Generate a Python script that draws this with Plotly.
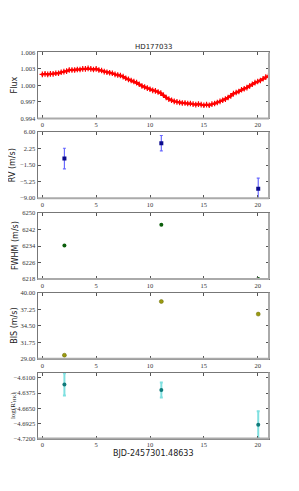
import plotly.graph_objects as go

# ---------------- data ----------------
lc_time = [0.0, 0.25, 0.5, 0.75, 1.0, 1.25, 1.5, 1.75, 2.0, 2.25, 2.5, 2.75, 3.0, 3.25, 3.5,
           3.75, 4.0, 4.25, 4.5, 4.75, 5.0, 5.25, 5.5, 5.75, 6.0, 6.25, 6.5, 6.75, 7.0, 7.25,
           7.5, 7.75, 8.0, 8.25, 8.5, 8.75, 9.0, 9.25, 9.5, 9.75, 10.0, 10.25, 10.5, 10.75,
           11.0, 11.25, 11.5, 11.75, 12.0, 12.25, 12.5, 12.75, 13.0, 13.25, 13.5, 13.75, 14.0,
           14.25, 14.5, 14.75, 15.0, 15.25, 15.5, 15.75, 16.0, 16.25, 16.5, 16.75, 17.0, 17.25,
           17.5, 17.75, 18.0, 18.25, 18.5, 18.75, 19.0, 19.25, 19.5, 19.75, 20.0, 20.25, 20.5,
           20.75, 21.0]
lc_flux = [1.0020, 1.0021, 1.0020, 1.0021, 1.0021, 1.0022, 1.0022, 1.0024, 1.0025, 1.0026,
           1.0028, 1.0028, 1.0028, 1.0029, 1.0029, 1.0030, 1.0030, 1.0031, 1.0030, 1.0029,
           1.0030, 1.0028, 1.0027, 1.0025, 1.0024, 1.0023, 1.0022, 1.0020, 1.0019, 1.0018,
           1.0016, 1.0013, 1.0011, 1.0009, 1.0007, 1.0005, 1.0002, 0.9999, 0.9997, 0.9995,
           0.9993, 0.9991, 0.9990, 0.9988, 0.9986, 0.9982, 0.9978, 0.9975, 0.9973, 0.9971,
           0.9970, 0.9969, 0.9968, 0.9968, 0.9967, 0.9967, 0.9966, 0.9965, 0.9966, 0.9965,
           0.9964, 0.9965, 0.9964, 0.9966, 0.9967, 0.9969, 0.9971, 0.9973, 0.9975, 0.9978,
           0.9981, 0.9985, 0.9987, 0.9989, 0.9992, 0.9994, 0.9996, 0.9999, 1.0002, 1.0005,
           1.0007, 1.0009, 1.0012, 1.0015, 1.0017]
lc_err = 0.00015

spec_time = [2.05, 11.05, 20.05]
rv = [0.0, 3.5, -6.85]
rv_err = [2.35, 1.75, 2.4]
fwhm = [6234.3, 6244.3, 6218.0]
bis = [29.6, 38.55, 36.45]
rhk = [-4.6219, -4.6320, -4.6950]
rhk_err = [0.0202, 0.0134, 0.0244]

title_text = "HD177033"
xlabel = "BJD-2457301.48633"
ylabels = ["Flux", "RV (m/s)", "FWHM (m/s)", "BIS (m/s)", "log(R'<sub>HK</sub>)"]

x_ticks = [0, 5, 10, 15, 20]
flux_ticks = [0.994, 0.997, 1.000, 1.003, 1.006]
flux_ticktext = ["0.994", "0.997", "1.000", "1.003", "1.006"]
rv_ticks = [-9.00, -5.25, -1.50, 2.25, 6.00]
rv_ticktext = ["−9.00", "−5.25", "−1.50", "2.25", "6.00"]
fwhm_ticks = [6218, 6226, 6234, 6242, 6250]
bis_ticks = [29.00, 31.75, 34.50, 37.25, 40.00]
bis_ticktext = ["29.00", "31.75", "34.50", "37.25", "40.00"]
rhk_ticks = [-4.7200, -4.6925, -4.6650, -4.6375, -4.6100]
rhk_ticktext = ["−4.7200", "−4.6925", "−4.6650", "−4.6375", "−4.6100"]

# ---------------- layout geometry ----------------
# the page body has an 8px margin, so the figure is placed at (8, 8)
OFF = 8
W, H = 299 - 2 * OFF, 491 - 2 * OFF


def px(v):
    return v - OFF


x0, x1 = px(37.5) / W, px(269) / W
panels_page = [(49, 116), (130, 197), (212, 279), (293, 360), (374, 441)]
panels_px = [(px(t), px(b)) for t, b in panels_page]
domains = [[1 - b / H, 1 - t / H] for t, b in panels_px]
xrange_ = [-0.45, 21.05]
yranges = [[0.994, 1.006], [-9.0, 6.0], [6218, 6250], [29.0, 40.0], [-4.72, -4.6005]]

fig = go.Figure()

fig.add_trace(go.Scatter(x=lc_time, y=lc_flux, mode="lines",
                         line=dict(color="red", width=2), xaxis="x", yaxis="y"))
fig.add_trace(go.Scatter(x=lc_time, y=lc_flux, mode="markers",
                         marker=dict(symbol="cross-thin", size=4, color="red",
                                     line=dict(color="red", width=1.2)),
                         error_y=dict(type="constant", value=lc_err, color="red",
                                      thickness=1.2, width=1),
                         xaxis="x", yaxis="y"))

fig.add_trace(go.Scatter(x=spec_time, y=rv, mode="markers",
                         marker=dict(symbol="square", size=4, color="#0a0a8c"),
                         error_y=dict(type="data", array=rv_err, color="#6a6aff",
                                      thickness=1.2, width=1.5),
                         xaxis="x2", yaxis="y2"))
fig.add_trace(go.Scatter(x=spec_time, y=fwhm, mode="markers",
                         marker=dict(symbol="circle", size=4, color="#0b5e0b"),
                         xaxis="x3", yaxis="y3"))
fig.add_trace(go.Scatter(x=spec_time, y=bis, mode="markers",
                         marker=dict(symbol="circle", size=4, color="#9a9a10",
                                     line=dict(color="#6b6b00", width=0.5)),
                         xaxis="x4", yaxis="y4"))
fig.add_trace(go.Scatter(x=spec_time, y=rhk, mode="markers",
                         marker=dict(symbol="circle", size=4, color="#107a7a"),
                         error_y=dict(type="data", array=rhk_err, color="#7fe0e0",
                                      thickness=2, width=1.5),
                         xaxis="x5", yaxis="y5"))

tickfont = dict(family="Liberation Serif, DejaVu Serif, serif", size=6.5, color="#333")
axis_common = dict(showgrid=False, zeroline=False, ticks="inside", ticklen=3,
                   tickcolor="#555", tickwidth=0.8, mirror="allticks", showline=True,
                   linecolor="#777", linewidth=1, tickfont=tickfont)

ytick_specs = [
    (flux_ticks, flux_ticktext),
    (rv_ticks, rv_ticktext),
    (fwhm_ticks, [str(v) for v in fwhm_ticks]),
    (bis_ticks, bis_ticktext),
    (rhk_ticks, rhk_ticktext),
]

layout = dict(width=W, height=H, margin=dict(l=0, r=0, t=0, b=0),
              paper_bgcolor="white", plot_bgcolor="white", showlegend=False)
for i in range(5):
    sx = "" if i == 0 else str(i + 1)
    layout["xaxis" + sx] = dict(axis_common, domain=[x0, x1], range=xrange_,
                                tickvals=x_ticks, ticktext=[str(v) for v in x_ticks],
                                anchor="y" + sx)
    tv, tt = ytick_specs[i]
    layout["yaxis" + sx] = dict(axis_common, domain=domains[i], range=yranges[i],
                                tickvals=tv, ticktext=tt, anchor="x" + sx)
fig.update_layout(**layout)

# thicker light-gray right / bottom spines
shapes = []
for t, b in panels_px:
    shapes.append(dict(type="line", xref="paper", yref="paper", x0=x1, x1=x1,
                       y0=1 - b / H, y1=1 - t / H, line=dict(color="#aaa", width=2)))
    shapes.append(dict(type="line", xref="paper", yref="paper", x0=x0, x1=x1,
                       y0=1 - b / H, y1=1 - b / H, line=dict(color="#aaa", width=2)))
fig.update_layout(shapes=shapes)

annotations = [
    dict(text=title_text, x=(x0 + x1) / 2, y=1 - px(44) / H, xref="paper", yref="paper",
         showarrow=False, font=dict(family="DejaVu Sans, sans-serif", size=7, color="#222"),
         xanchor="center", yanchor="middle"),
    dict(text=xlabel, x=(x0 + x1) / 2, y=1 - px(456) / H, xref="paper", yref="paper",
         showarrow=False, font=dict(family="DejaVu Sans, sans-serif", size=8, color="#222"),
         xanchor="center", yanchor="middle"),
]
ylab_x = [14, 12, 15, 15, 12.5]
ylab_size = [8, 8, 8, 8, 7]
for i, (t, b) in enumerate(panels_px):
    fam = "Liberation Serif, serif" if i == 4 else "DejaVu Sans, sans-serif"
    annotations.append(dict(text=ylabels[i], x=px(ylab_x[i]) / W, y=1 - (t + b) / 2 / H,
                            xref="paper", yref="paper", showarrow=False, textangle=-90,
                            font=dict(family=fam, size=ylab_size[i], color="#222"),
                            xanchor="center", yanchor="middle"))
fig.update_layout(annotations=annotations)

fig.write_html("out.html")
